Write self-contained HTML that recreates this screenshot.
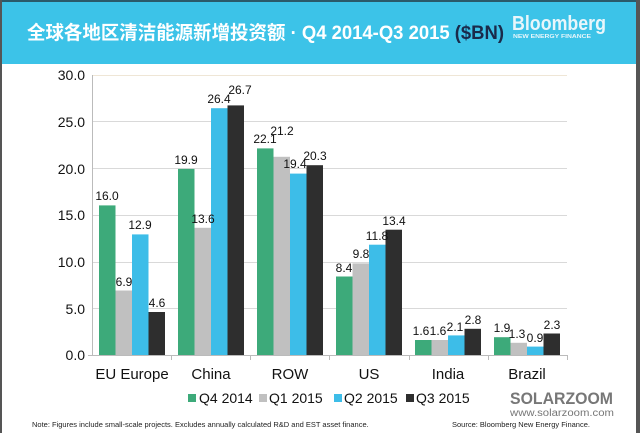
<!DOCTYPE html>
<html><head><meta charset="utf-8"><style>
html,body{margin:0;padding:0;background:#fff;}
svg{display:block;font-family:"Liberation Sans","Noto Sans CJK SC",sans-serif;}
</style></head><body>
<svg width="640" height="433" viewBox="0 0 640 433" xmlns="http://www.w3.org/2000/svg">
<rect x="0" y="0" width="640" height="433" fill="#fff"/>
<rect x="0" y="0" width="640" height="64" fill="#3cc3e8"/>
<rect x="0" y="0" width="640" height="2" fill="#2a5a6a"/>
<rect x="0" y="0" width="2" height="433" fill="#555"/>
<rect x="636" y="0" width="4" height="433" fill="#555"/>
<text x="27" y="39" font-size="19" font-weight="bold" fill="#fff" textLength="477" lengthAdjust="spacingAndGlyphs">全球各地区清洁能源新增投资额 · Q4 2014-Q3 2015 <tspan fill="#1a2a4a">($BN)</tspan></text>
<text x="512" y="30" font-size="20" font-weight="bold" fill="#e8f6fb" textLength="94" lengthAdjust="spacingAndGlyphs">Bloomberg</text>
<text x="513" y="38" font-size="5.5" font-weight="bold" fill="#e8f6fb" textLength="78" lengthAdjust="spacingAndGlyphs">NEW ENERGY FINANCE</text>
<g stroke="#d9d9d9" stroke-width="1">
<line x1="92" y1="75.5" x2="567" y2="75.5" stroke="#efe6d6"/>
<line x1="92" y1="121.5" x2="567" y2="121.5"/>
<line x1="92" y1="168.5" x2="567" y2="168.5"/>
<line x1="92" y1="215.5" x2="567" y2="215.5"/>
<line x1="92" y1="262.5" x2="567" y2="262.5"/>
<line x1="92" y1="308.5" x2="567" y2="308.5"/>
</g>
<g font-size="14" fill="#111" text-anchor="end">
<text x="85" y="80">30.0</text><text x="85" y="127">25.0</text><text x="85" y="174">20.0</text>
<text x="85" y="220">15.0</text><text x="85" y="267">10.0</text><text x="85" y="314">5.0</text><text x="85" y="360">0.0</text>
</g>
<g>
<rect x="99" y="205.4" width="16.5" height="149.6" fill="#3daa7a"/>
<rect x="115.5" y="290.5" width="16.5" height="64.5" fill="#c0c0c0"/>
<rect x="132" y="234.4" width="16.5" height="120.6" fill="#3dbde8"/>
<rect x="148.5" y="312" width="16.5" height="43" fill="#2e2e2e"/>
<rect x="178" y="168.9" width="16.5" height="186.1" fill="#3daa7a"/>
<rect x="194.5" y="227.8" width="16.5" height="127.2" fill="#c0c0c0"/>
<rect x="211" y="108.2" width="16.5" height="246.8" fill="#3dbde8"/>
<rect x="227.5" y="105.4" width="16.5" height="249.6" fill="#2e2e2e"/>
<rect x="257" y="148.4" width="16.5" height="206.6" fill="#3daa7a"/>
<rect x="273.5" y="156.8" width="16.5" height="198.2" fill="#c0c0c0"/>
<rect x="290" y="173.6" width="16.5" height="181.4" fill="#3dbde8"/>
<rect x="306.5" y="165.2" width="16.5" height="189.8" fill="#2e2e2e"/>
<rect x="336" y="276.5" width="16.5" height="78.5" fill="#3daa7a"/>
<rect x="352.5" y="263.4" width="16.5" height="91.6" fill="#c0c0c0"/>
<rect x="369" y="244.7" width="16.5" height="110.3" fill="#3dbde8"/>
<rect x="385.5" y="229.7" width="16.5" height="125.3" fill="#2e2e2e"/>
<rect x="415" y="340" width="16.5" height="15" fill="#3daa7a"/>
<rect x="431.5" y="340" width="16.5" height="15" fill="#c0c0c0"/>
<rect x="448" y="335.4" width="16.5" height="19.6" fill="#3dbde8"/>
<rect x="464.5" y="328.8" width="16.5" height="26.2" fill="#2e2e2e"/>
<rect x="494" y="337.2" width="16.5" height="17.8" fill="#3daa7a"/>
<rect x="510.5" y="342.8" width="16.5" height="12.2" fill="#c0c0c0"/>
<rect x="527" y="346.6" width="16.5" height="8.4" fill="#3dbde8"/>
<rect x="543.5" y="333.5" width="16.5" height="21.5" fill="#2e2e2e"/>
</g>
<g font-size="12" fill="#111" text-anchor="middle">
<text x="107" y="200">16.0</text><text x="124" y="286">6.9</text><text x="140" y="229">12.9</text><text x="157" y="307">4.6</text>
<text x="186" y="164">19.9</text><text x="203" y="223">13.6</text><text x="219" y="103">26.4</text><text x="240" y="94">26.7</text>
<text x="265" y="143">22.1</text><text x="282" y="135">21.2</text><text x="295" y="168">19.4</text><text x="315" y="160">20.3</text>
<text x="344" y="272">8.4</text><text x="361" y="258">9.8</text><text x="377" y="240">11.8</text><text x="394" y="225">13.4</text>
<text x="421" y="335">1.6</text><text x="438" y="335">1.6</text><text x="455" y="331">2.1</text><text x="473" y="324">2.8</text>
<text x="502" y="332">1.9</text><text x="517" y="338">1.3</text><text x="535" y="342">0.9</text><text x="552" y="329">2.3</text>
</g>
<line x1="92.5" y1="75" x2="92.5" y2="355" stroke="#bbb"/>
<line x1="88" y1="355.5" x2="567" y2="355.5" stroke="#bbb"/>
<g stroke="#bbb"><line x1="171.5" y1="355" x2="171.5" y2="360"/><line x1="250.5" y1="355" x2="250.5" y2="360"/><line x1="329.5" y1="355" x2="329.5" y2="360"/><line x1="409.5" y1="355" x2="409.5" y2="360"/><line x1="488.5" y1="355" x2="488.5" y2="360"/><line x1="567.5" y1="355" x2="567.5" y2="360"/></g>
<g font-size="15" fill="#111" text-anchor="middle">
<text x="132" y="379">EU Europe</text><text x="211" y="379">China</text><text x="290" y="379">ROW</text>
<text x="369" y="379">US</text><text x="448" y="379">India</text><text x="527" y="379">Brazil</text>
</g>
<g font-size="14" fill="#111">
<rect x="188" y="394" width="8" height="8" fill="#3daa7a"/><text x="199" y="403">Q4 2014</text>
<rect x="259" y="394" width="8" height="8" fill="#c0c0c0"/><text x="269" y="403">Q1 2015</text>
<rect x="334" y="394" width="8" height="8" fill="#3dbde8"/><text x="344" y="403">Q2 2015</text>
<rect x="406" y="394" width="8" height="8" fill="#2e2e2e"/><text x="416" y="403">Q3 2015</text>
</g>
<text x="510" y="404" font-size="17" font-weight="bold" fill="#777" textLength="103" lengthAdjust="spacingAndGlyphs">SOLARZOOM</text>
<text x="510" y="416" font-size="10" fill="#777" textLength="104" lengthAdjust="spacingAndGlyphs">www.solarzoom.com</text>
<text x="32" y="427" font-size="7.5" fill="#222">Note: Figures include small-scale projects. Excludes annually calculated R&amp;D and EST asset finance.</text>
<text x="452" y="427" font-size="7.5" fill="#222">Source: Bloomberg New Energy Finance.</text>
</svg>
</body></html>
